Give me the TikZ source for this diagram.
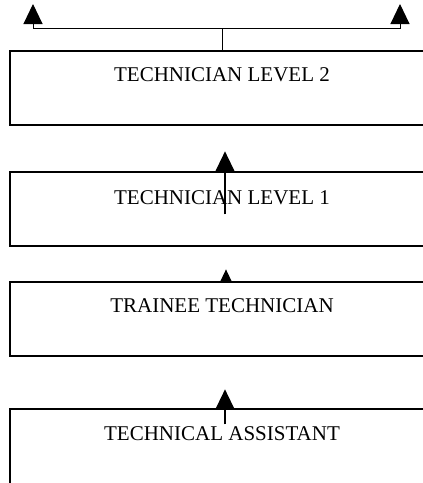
\documentclass[tikz,border=0pt]{standalone}
\usepackage{fontspec}
\setmainfont{Liberation Serif}
\usetikzlibrary{arrows.meta}

\tikzset{
  stage/.style={draw, line width=1.3pt, minimum width=424pt, minimum height=74pt, inner sep=0pt},
  stagetext/.style={anchor=base, font=\fontsize{21}{25}\selectfont, inner sep=0pt},
  bigtip/.style={-{Triangle[width=19pt,length=20pt]}, line width=1.3pt},
  smalltip/.style={-{Triangle[width=11pt,length=12pt]}, line width=1.3pt}
}

\begin{document}
\begin{tikzpicture}[x=1pt, y=-1pt]

  \useasboundingbox (0,0) rectangle (423,483);

  % draw boxes
  \node[stage] (lvltwo) at (222,88) {};
  \node[stage] (lvlone) at (222,209) {};
  \node[stage] (trainee) at (222,319) {};
  \node[stage, minimum height=78pt] (asst) at (222,448) {};

  % box texts
  \node[stagetext] (lvltwotext) at ([yshift=-31pt]lvltwo.north) {TECHNICIAN LEVEL 2};
  \node[stagetext] (lvlonetext) at ([yshift=-33pt]lvlone.north) {TECHNICIAN LEVEL 1};
  \node[stagetext] (traineetext) at ([yshift=-31pt]trainee.north) {TRAINEE TECHNICIAN};
  \node[stagetext] (assttext) at ([yshift=-32pt]asst.north) {TECHNICAL ASSISTANT};

  % split arrows on top
  \coordinate (split) at (222,28);
  \coordinate (lefttip) at (33,4);
  \coordinate (righttip) at (400,4);
  \draw[line width=1pt] (lvltwo.north) -- (split);
  \draw[bigtip, line width=1pt] (split) -| (lefttip);
  \draw[bigtip, line width=1pt] (split) -| (righttip);

  % arrows between boxes
  \draw[bigtip] ([xshift=3pt,yshift=-43pt]lvlone.north) -- ([xshift=3pt,yshift=20pt]lvlone.north);
  \draw[smalltip] ([xshift=4pt]trainee.north) -- ([xshift=4pt,yshift=12pt]trainee.north);
  \draw[bigtip] ([xshift=3pt,yshift=-16pt]asst.north) -- ([xshift=3pt,yshift=19pt]asst.north);
\end{tikzpicture}
\end{document}
